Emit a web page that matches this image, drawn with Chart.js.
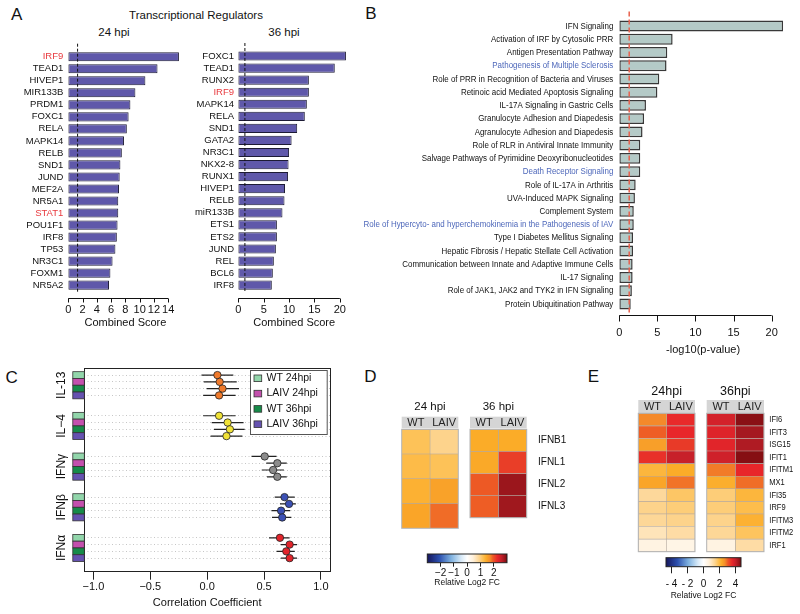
<!DOCTYPE html>
<html>
<head>
<meta charset="utf-8">
<title>Host response figure</title>
<script src="https://cdn.jsdelivr.net/npm/chart.js@4.4.1/dist/chart.umd.min.js"></script>
<style>
  body { margin: 0; background: #fff; }
  #fig { position: relative; width: 800px; height: 614px; overflow: hidden; font-family: 'Liberation Sans', Arial, sans-serif; color: #111; }
  #fig canvas { position: absolute; }
  .lbl { position: absolute; transform: translate(-50%, -50%); white-space: nowrap; line-height: 1; }
</style>
</head>
<body>
<div id="fig">
  <div class="lbl" style="left:16.7px;top:14px;font-size:17px">A</div>
  <div class="lbl" id="tfTitle" style="left:196px;top:16px;font-size:11.5px"></div>
  <div class="lbl" id="tfTime0" style="left:114px;top:33px;font-size:11.5px"></div>
  <div class="lbl" id="tfTime1" style="left:284px;top:33px;font-size:11.5px"></div>
  <div class="lbl" style="left:370.8px;top:13.3px;font-size:17px">B</div>
  <div class="lbl" style="left:11.7px;top:376.7px;font-size:17px">C</div>
  <div class="lbl" style="left:370.3px;top:375.8px;font-size:17px">D</div>
  <div class="lbl" style="left:593.3px;top:375.8px;font-size:17px">E</div>

  <canvas id="tf24" width="190" height="290" style="left:0px;top:40px"></canvas>
  <canvas id="tf36" width="175" height="290" style="left:180px;top:40px"></canvas>
  <canvas id="paths" width="440" height="360" style="left:360px;top:0px"></canvas>
  <canvas id="forest" width="345" height="274" style="left:0px;top:340px"></canvas>
  <canvas id="d24" width="70" height="140" style="left:395px;top:395px"></canvas>
  <canvas id="d36" width="110" height="140" style="left:463px;top:395px"></canvas>
  <canvas id="dBar" width="140" height="45" style="left:400px;top:545px"></canvas>
  <canvas id="e24" width="70" height="180" style="left:632px;top:378px"></canvas>
  <canvas id="e36" width="100" height="180" style="left:700px;top:378px"></canvas>
  <canvas id="eBar" width="130" height="60" style="left:640px;top:548px"></canvas>
</div>
<script>
// ---- panel A: transcriptional regulators ----
const tfTitle = "Transcriptional Regulators";
const tfTimes = ["24 hpi", "36 hpi"];
const scoreTitle = "Combined Score";
const tf24 = ["IRF9", "TEAD1", "HIVEP1", "MIR133B", "PRDM1", "FOXC1", "RELA", "MAPK14", "RELB", "SND1",
              "JUND", "MEF2A", "NR5A1", "STAT1", "POU1F1", "IRF8", "TP53", "NR3C1", "FOXM1", "NR5A2"];
const score24 = [15.5, 12.5, 10.8, 9.4, 8.7, 8.45, 8.2, 7.8, 7.5, 7.3, 7.2, 7.1, 7.0, 7.0, 6.9, 6.8, 6.6, 6.2, 5.9, 5.7];
const tf36 = ["FOXC1", "TEAD1", "RUNX2", "IRF9", "MAPK14", "RELA", "SND1", "GATA2", "NR3C1", "NKX2-8",
              "RUNX1", "HIVEP1", "RELB", "miR133B", "ETS1", "ETS2", "JUND", "REL", "BCL6", "IRF8"];
const score36 = [21.2, 19.0, 13.9, 13.9, 13.5, 13.1, 11.6, 10.5, 10.0, 9.9, 9.8, 9.2, 9.1, 8.7, 7.6, 7.6, 7.4, 7.0, 6.8, 6.6];
const redTFs = ["IRF9", "STAT1"];
const ticks24 = [0, 2, 4, 6, 8, 10, 12, 14];
const ticks36 = [0, 5, 10, 15, 20];
const scoreCut = 1.3;

// ---- panel B: canonical pathways ----
const pathways = ["IFN Signaling", "Activation of IRF by Cytosolic PRR", "Antigen Presentation Pathway",
  "Pathogenesis of Multiple Sclerosis", "Role of PRR in Recognition of Bacteria and Viruses",
  "Retinoic acid Mediated Apoptosis Signaling", "IL-17A Signaling in Gastric Cells",
  "Granulocyte Adhesion and Diapedesis", "Agranulocyte Adhesion and Diapedesis",
  "Role of RLR in Antiviral Innate Immunity", "Salvage Pathways of Pyrimidine Deoxyribonucleotides",
  "Death Receptor Signaling", "Role of IL-17A in Arthritis", "UVA-Induced MAPK Signaling", "Complement System",
  "Role of Hypercyto- and hyperchemokinemia in the Pathogenesis of IAV", "Type I Diabetes Mellitus Signaling",
  "Hepatic Fibrosis / Hepatic Stellate Cell Activation", "Communication between Innate and Adaptive Immune Cells",
  "IL-17 Signaling", "Role of JAK1, JAK2 and TYK2 in IFN Signaling", "Protein Ubiquitination Pathway"];
const pathwayLogP = [21.5, 7.0, 6.3, 6.2, 5.25, 5.0, 3.5, 3.25, 3.05, 2.75, 2.75, 2.75, 2.15, 2.05, 1.9, 1.9,
                     1.8, 1.8, 1.75, 1.75, 1.65, 1.5];
const bluePathways = ["Pathogenesis of Multiple Sclerosis", "Death Receptor Signaling",
  "Role of Hypercyto- and hyperchemokinemia in the Pathogenesis of IAV"];
const logPTicks = [0, 5, 10, 15, 20];
const logPTitle = "-log10(p-value)";
const pCut = 1.3;

// ---- panel C: correlation with cytokine signatures ----
const cytokines = ["IL-13", "IL\u22124", "IFN\u03b3", "IFN\u03b2", "IFN\u03b1"];
const cytokineColors = ["#f07a2b", "#f0e236", "#8c8c8c", "#3b50b4", "#e2252c"];
const conditions = ["WT 24hpi", "LAIV 24hpi", "WT 36hpi", "LAIV 36hpi"];
const conditionColors = ["#92d6ab", "#c450ae", "#168b49", "#6552b0"];
const il13Mid = [0.09, 0.11, 0.135, 0.105];
const il13Lo = [-0.05, -0.03, -0.005, -0.035];
const il13Hi = [0.23, 0.26, 0.28, 0.25];
const il4Mid = [0.105, 0.18, 0.2, 0.17];
const il4Lo = [-0.035, 0.04, 0.06, 0.03];
const il4Hi = [0.25, 0.32, 0.33, 0.31];
const ifngMid = [0.506, 0.617, 0.58, 0.617];
const ifngLo = [0.39, 0.52, 0.48, 0.526];
const ifngHi = [0.61, 0.70, 0.675, 0.70];
const ifnbMid = [0.68, 0.72, 0.65, 0.66];
const ifnbLo = [0.594, 0.64, 0.565, 0.57];
const ifnbHi = [0.77, 0.78, 0.73, 0.74];
const ifnaMid = [0.64, 0.725, 0.696, 0.725];
const ifnaLo = [0.544, 0.647, 0.61, 0.647];
const ifnaHi = [0.725, 0.79, 0.77, 0.79];
const corrTicks = [-1, -0.5, 0, 0.5, 1];
const corrTitle = "Correlation Coefficient";

// ---- panels D and E: heatmaps ----
const colNames = ["WT", "LAIV"];
const dTimes = ["24 hpi", "36 hpi"];
const dGenes = ["IFNB1", "IFNL1", "IFNL2", "IFNL3"];
const d24WT = [1.17, 1.26, 1.38, 1.5];
const d24LAIV = [0.93, 1.17, 1.53, 1.86];
const d36WT = [1.44, 1.47, 1.95, 1.92];
const d36LAIV = [1.44, 2.13, 2.82, 2.79];
const dBarTicks = [-2, -1, 0, 1, 2];
const dBarLabels = ["\u22122", "\u22121", "0", "1", "2"];
const eTimes = ["24hpi", "36hpi"];
const eGenes = ["IFI6", "IFIT3", "ISG15", "IFIT1", "IFITM1", "MX1", "IFI35", "IRF9", "IFITM3", "IFITM2", "IRF1"];
const e24WT = [2.73, 3.0, 2.44, 3.48, 2.07, 2.35, 1.32, 1.46, 1.36, 1.03, 0.56];
const e24LAIV = [3.53, 3.57, 3.38, 4.0, 2.26, 2.87, 1.74, 1.6, 1.46, 1.22, 0.47];
const e36WT = [3.85, 3.71, 3.67, 3.9, 2.82, 2.21, 1.6, 1.6, 1.46, 1.36, 0.56];
const e36LAIV = [4.56, 4.32, 4.23, 4.6, 3.57, 2.91, 2.07, 1.93, 2.16, 1.79, 1.22];
const eBarTicks = [-4, -2, 0, 2, 4];
const eBarLabels = ["- 4", "- 2", "0", "2", "4"];
const fcTitle = "Relative Log2 FC";

const SANS = "'Liberation Sans', Arial, Helvetica, sans-serif";

// diverging blue-white-orange-red map, t in [-1, 1]
const cmapStops = [[-1.0, "#16165c"], [-0.7, "#2b4fae"], [-0.4, "#7fb2e0"], [-0.15, "#d8eaf8"], [0, "#ffffff"],
  [0.15, "#fff0da"], [0.3, "#fdd592"], [0.4, "#fdc052"], [0.48, "#fbac28"], [0.58, "#f48a2a"],
  [0.64, "#ee5d25"], [0.72, "#e83a28"], [0.76, "#e8262a"], [0.85, "#c8202a"], [0.93, "#a0181e"], [1.0, "#7a0a0e"]];
function hexRgb(h) {
  return [parseInt(h.slice(1, 3), 16), parseInt(h.slice(3, 5), 16), parseInt(h.slice(5, 7), 16)];
}
function heatColor(t) {
  t = Math.max(-1, Math.min(1, t));
  for (let i = 1; i < cmapStops.length; i++) {
    if (t <= cmapStops[i][0]) {
      let [t0, c0] = cmapStops[i - 1], [t1, c1] = cmapStops[i];
      let f = (t - t0) / (t1 - t0), a = hexRgb(c0), b = hexRgb(c1);
      return "rgb(" + a.map((v, k) => Math.round(v + (b[k] - v) * f)).join(",") + ")";
    }
  }
  return cmapStops[cmapStops.length - 1][1];
}

Chart.defaults.font.family = SANS;
Chart.defaults.color = "#111";
Chart.defaults.animation = false;
Chart.defaults.responsive = false;
Chart.defaults.maintainAspectRatio = false;
Chart.defaults.events = [];
Chart.defaults.plugins.legend.display = false;
Chart.defaults.plugins.tooltip.enabled = false;

function fixSize(size) {
  return function (scale) {
    if (scale.isHorizontal()) scale.height = size; else scale.width = size;
  };
}
function ticksAt(values) {
  return function (scale) { scale.ticks = values.map(v => ({ value: v })); };
}

// R style axis: line from first to last tick, a little below the bars
const rAxis = {
  id: "rAxis",
  afterDraw(chart, args, o) {
    let x = chart.scales.x, ctx = chart.ctx;
    let y0 = Math.round(chart.chartArea.bottom + o.gap) + 0.5;
    let first = x.getPixelForValue(x.ticks[0].value);
    let last = x.getPixelForValue(x.ticks[x.ticks.length - 1].value);
    ctx.save();
    ctx.strokeStyle = "#111";
    ctx.lineWidth = 1;
    ctx.beginPath();
    ctx.moveTo(first, y0);
    ctx.lineTo(last, y0);
    x.ticks.forEach(t => {
      let px = Math.round(x.getPixelForValue(t.value)) + 0.5;
      ctx.moveTo(px, y0);
      ctx.lineTo(px, y0 + o.len);
    });
    ctx.stroke();
    ctx.restore();
  }
};

const cutLine = {
  id: "cutLine",
  afterDatasetsDraw(chart, args, o) {
    let px = chart.scales.x.getPixelForValue(o.value), a = chart.chartArea, ctx = chart.ctx;
    ctx.save();
    ctx.strokeStyle = o.color;
    ctx.lineWidth = o.width;
    ctx.setLineDash(o.dash);
    ctx.beginPath();
    ctx.moveTo(px, a.top - o.above);
    ctx.lineTo(px, a.bottom + o.below);
    ctx.stroke();
    ctx.restore();
  }
};

// category labels in a condensed face (the narrow font is not installed, so squeeze it)
const squeezeLabels = {
  id: "squeezeLabels",
  afterDraw(chart, args, o) {
    let y = chart.scales.y, ctx = chart.ctx, a = chart.chartArea;
    let left = o.side === "left";
    ctx.save();
    ctx.font = o.size + "px " + SANS;
    ctx.textBaseline = "middle";
    ctx.textAlign = left ? "right" : "left";
    chart.data.labels.forEach((lab, i) => {
      ctx.save();
      ctx.translate(left ? a.left - o.pad : a.right + o.pad, y.getPixelForValue(i));
      ctx.scale(o.squeeze, 1);
      ctx.fillStyle = o.blue && o.blue.includes(lab) ? "#4d67ba" : "#111";
      ctx.fillText(lab, 0, 0);
      ctx.restore();
    });
    ctx.restore();
  }
};

function tfChart(id, names, scores, xMax, xTicks, box) {
  return new Chart(document.getElementById(id), {
    type: "bar",
    data: {
      labels: names,
      datasets: [{
        data: scores, backgroundColor: "#5f58aa", borderColor: "#1d1b35", borderWidth: 1,
        borderSkipped: false, barPercentage: 0.76, categoryPercentage: 1
      }]
    },
    options: {
      indexAxis: "y",
      layout: { padding: { left: 0, top: 7.2, right: box.right, bottom: 0 } },
      scales: {
        x: {
          min: 0, max: xMax, afterBuildTicks: ticksAt(xTicks), afterFit: fixSize(38.8),
          grid: { display: false, drawTicks: true, tickLength: 10.8 }, border: { display: false },
          ticks: { autoSkip: false, maxRotation: 0, padding: 1.4, font: { size: 11 } },
          title: { display: true, text: scoreTitle, font: { size: 11 }, padding: { top: 0, bottom: 0.4 } }
        },
        y: {
          afterFit: fixSize(box.axisW), grid: { display: false, drawTicks: false }, border: { display: false },
          ticks: {
            autoSkip: false, padding: box.labelPad, font: { size: 9.5 },
            color: c => redTFs.includes(c.tick.label) ? "#e8393e" : "#111"
          }
        }
      },
      plugins: {
        rAxis: { gap: 6.8, len: 4 },
        cutLine: { value: scoreCut, color: "#111", width: 1, dash: [3, 2], above: 7, below: 1 }
      }
    },
    plugins: [rAxis, cutLine]
  });
}

document.getElementById("tfTitle").textContent = tfTitle;
document.getElementById("tfTime0").textContent = tfTimes[0];
document.getElementById("tfTime1").textContent = tfTimes[1];
tfChart("tf24", tf24, score24, 16, ticks24, { axisW: 68.3, right: 7.5, labelPad: 5 });
tfChart("tf36", tf36, score36, 22, ticks36, { axisW: 58.3, right: 5, labelPad: 4.3 });

new Chart(document.getElementById("paths"), {
  type: "bar",
  data: {
    labels: pathways,
    datasets: [{
      data: pathwayLogP, backgroundColor: "#b4cac7", borderColor: "#383838", borderWidth: 1.5,
      borderSkipped: false, barPercentage: 0.82, categoryPercentage: 1
    }]
  },
  options: {
    indexAxis: "y",
    layout: { padding: { left: 259.3, top: 19.4, right: 13.1, bottom: 0 } },
    scales: {
      x: {
        min: 0, max: 22, afterBuildTicks: ticksAt(logPTicks), afterFit: fixSize(49.4),
        grid: { display: false, drawTicks: true, tickLength: 10.4 }, border: { display: false },
        ticks: { autoSkip: false, maxRotation: 0, padding: 5.4, font: { size: 11 } },
        title: { display: true, text: logPTitle, font: { size: 11 }, padding: { top: 0, bottom: 3.4 } }
      },
      y: { display: false }
    },
    plugins: {
      rAxis: { gap: 4.4, len: 6 },
      cutLine: { value: pCut, color: "#e8624e", width: 1.5, dash: [5, 3], above: 8, below: 4.4 },
      squeezeLabels: { side: "left", pad: 6, size: 9.7, squeeze: 0.82, blue: bluePathways }
    }
  },
  plugins: [rAxis, cutLine, squeezeLabels]
});

// ---- forest plot ----
const corrMid = [il13Mid, il4Mid, ifngMid, ifnbMid, ifnaMid];
const corrLo = [il13Lo, il4Lo, ifngLo, ifnbLo, ifnaLo];
const corrHi = [il13Hi, il4Hi, ifngHi, ifnbHi, ifnaHi];
const rowPos = (g, r) => g * 6 + r;
let rowTicks = [];
cytokines.forEach((c, g) => conditions.forEach((d, r) => rowTicks.push(rowPos(g, r))));

let forestSets = cytokines.map((name, g) => ({
  label: name,
  data: corrMid[g].map((v, r) => ({ x: v, y: rowPos(g, r) })),
  backgroundColor: cytokineColors[g], borderColor: "#222", borderWidth: 0.8, pointRadius: 3.7, order: 0
}));
cytokines.forEach((name, g) => {
  conditions.forEach((cond, r) => {
    forestSets.push({
      label: name + " " + cond,
      data: [{ x: corrLo[g][r], y: rowPos(g, r) }, { x: corrHi[g][r], y: rowPos(g, r) }],
      showLine: true, borderColor: "#222", borderWidth: 1.2, pointRadius: 0, order: 1
    });
  });
});

const forestDecor = {
  id: "forestDecor",
  afterDraw(chart) {
    let ctx = chart.ctx, a = chart.chartArea, y = chart.scales.y;
    ctx.save();
    ctx.strokeStyle = "#222";
    ctx.lineWidth = 1;
    ctx.strokeRect(Math.round(a.left) + 0.5, Math.round(a.top) + 0.5, Math.round(a.right - a.left), Math.round(a.bottom - a.top));
    cytokines.forEach((name, g) => {
      conditions.forEach((cond, r) => {
        let py = y.getPixelForValue(rowPos(g, r));
        ctx.fillStyle = conditionColors[r];
        ctx.fillRect(a.left - 11.5, py - 3.4, 11.5, 6.8);
        ctx.strokeStyle = "#333";
        ctx.lineWidth = 0.8;
        ctx.strokeRect(a.left - 11.5, py - 3.4, 11.5, 6.8);
      });
      let cy = y.getPixelForValue(rowPos(g, 1.5));
      ctx.save();
      ctx.translate(a.left - 22.6, cy);
      ctx.rotate(-Math.PI / 2);
      ctx.fillStyle = "#111";
      ctx.font = "12px " + SANS;
      ctx.textAlign = "center";
      ctx.textBaseline = "middle";
      ctx.fillText(name, 0, 0);
      ctx.restore();
    });
    // legend box, top right inside the frame
    let bx = a.right - 80, by = a.top + 1.7;
    ctx.fillStyle = "#fff";
    ctx.fillRect(bx, by, 76.7, 64);
    ctx.strokeStyle = "#555";
    ctx.lineWidth = 1;
    ctx.strokeRect(Math.round(bx) + 0.5, Math.round(by) + 0.5, 76.7, 64);
    ctx.font = "10.5px " + SANS;
    ctx.textBaseline = "middle";
    ctx.textAlign = "left";
    conditions.forEach((cond, r) => {
      let ly = by + 8.3 + r * 15.3;
      ctx.fillStyle = conditionColors[r];
      ctx.fillRect(bx + 4, ly - 3.3, 7.7, 6.6);
      ctx.strokeStyle = "#333";
      ctx.lineWidth = 0.8;
      ctx.strokeRect(bx + 4, ly - 3.3, 7.7, 6.6);
      ctx.fillStyle = "#111";
      ctx.fillText(cond, bx + 16.5, ly);
    });
    ctx.restore();
  }
};

new Chart(document.getElementById("forest"), {
  type: "scatter",
  data: { datasets: forestSets },
  options: {
    layout: { padding: { left: 0, top: 28.3, right: 15, bottom: 0 } },
    scales: {
      x: {
        type: "linear", min: -1.08, max: 1.08, afterBuildTicks: ticksAt(corrTicks), afterFit: fixSize(42.3),
        grid: { drawOnChartArea: false, drawTicks: true, tickLength: 8, color: "#222" }, border: { display: false },
        ticks: {
          autoSkip: false, maxRotation: 0, padding: 0.7, font: { size: 11 },
          callback: v => (v < 0 ? "\u2212" : "") + Math.abs(v).toFixed(1)
        },
        title: { display: true, text: corrTitle, font: { size: 11 }, padding: { top: 0, bottom: 4.1 } }
      },
      y: {
        type: "linear", reverse: true, min: -1, max: 29, afterBuildTicks: ticksAt(rowTicks), afterFit: fixSize(84.3),
        ticks: { display: false },
        grid: { color: "#b8b8b8", lineWidth: 0.8, drawTicks: false },
        border: { display: false, dash: [1, 2.5] }
      }
    }
  },
  plugins: [forestDecor]
});

// ---- heatmaps ----
const heatFrame = {
  id: "heatFrame",
  beforeDraw(chart, args, o) {
    let ctx = chart.ctx, a = chart.chartArea;
    ctx.save();
    ctx.fillStyle = "#d5d5d5";
    ctx.fillRect(a.left, a.top - o.headH, a.right - a.left, o.headH - o.headGap);
    ctx.restore();
  },
  afterDatasetsDraw(chart) {
    let ctx = chart.ctx, a = chart.chartArea;
    ctx.save();
    ctx.strokeStyle = "#b3b3b3";
    ctx.lineWidth = 1;
    ctx.strokeRect(a.left, a.top, a.right - a.left, a.bottom - a.top);
    ctx.restore();
  }
};

function heatmap(id, o) {
  let ones = o.genes.map(() => 1);
  let plugins = [heatFrame];
  if (o.squeeze) plugins.push(squeezeLabels);
  return new Chart(document.getElementById(id), {
    type: "bar",
    data: {
      labels: o.genes,
      datasets: [o.wt, o.laiv].map((vals, k) => ({
        label: colNames[k], data: ones,
        backgroundColor: vals.map(v => heatColor(v / o.range)),
        borderColor: "rgba(175,165,155,0.9)", borderWidth: 0.6, borderSkipped: false,
        barPercentage: 1, categoryPercentage: 1
      }))
    },
    options: {
      indexAxis: "y",
      layout: { padding: { left: o.padL, right: o.padR, top: 0, bottom: o.padB } },
      scales: {
        x: {
          type: "linear", stacked: true, min: 0, max: 2, position: "top",
          afterBuildTicks: ticksAt([0.5, 1.5]), afterFit: fixSize(o.headH),
          grid: { display: false, drawTicks: false }, border: { display: false },
          ticks: { autoSkip: false, maxRotation: 0, padding: o.headPad, color: "#222", font: { size: 11 }, callback: (v, i) => colNames[i] }
        },
        y: {
          stacked: true, position: "right", display: !!o.showGenes,
          afterFit: fixSize(o.axisW || 0), grid: { display: false, drawTicks: false }, border: { display: false },
          ticks: { autoSkip: false, padding: o.genePad || 0, font: o.geneFont }
        }
      },
      plugins: {
        title: {
          display: true, text: o.title, fullSize: false, color: "#111",
          font: { size: o.titleSize, weight: "normal" }, padding: { top: o.titleTop, bottom: o.titleBottom }
        },
        heatFrame: { headH: o.headH, headGap: o.headGap },
        squeezeLabels: o.squeeze || {}
      }
    },
    plugins: plugins
  });
}

const dCommon = { genes: dGenes, range: 3, headH: 12.6, headGap: 1, headPad: 0.2, titleSize: 11.5, titleTop: 4.8, titleBottom: 3.1, padB: 6.7 };
heatmap("d24", Object.assign({}, dCommon, { title: dTimes[0], wt: d24WT, laiv: d24LAIV, padL: 6.7, padR: 6.7 }));
heatmap("d36", Object.assign({}, dCommon, {
  title: dTimes[1], wt: d36WT, laiv: d36LAIV, padL: 7, padR: 0, showGenes: true,
  axisW: 46.3, genePad: 11.3, geneFont: { size: 10 }
}));
const eCommon = { genes: eGenes, range: 4.7, headH: 13.3, headGap: 0, headPad: 0, titleSize: 12.5, titleTop: 6.2, titleBottom: 0.8, padB: 6.3 };
heatmap("e24", Object.assign({}, eCommon, { title: eTimes[0], wt: e24WT, laiv: e24LAIV, padL: 6.3, padR: 7 }));
heatmap("e36", Object.assign({}, eCommon, {
  title: eTimes[1], wt: e36WT, laiv: e36LAIV, padL: 6.7, padR: 36,
  squeeze: { side: "right", pad: 5.3, size: 9.2, squeeze: 0.82 }
}));

// ---- colour keys ----
const gradientBar = {
  id: "gradientBar",
  beforeDatasetsDraw(chart, args, o) {
    let ctx = chart.ctx, a = chart.chartArea, x = chart.scales.x;
    let g = ctx.createLinearGradient(a.left, 0, a.right, 0);
    for (let k = 0; k <= 60; k++) {
      let v = x.min + (x.max - x.min) * k / 60;
      g.addColorStop(k / 60, heatColor(v / o.range));
    }
    ctx.save();
    ctx.fillStyle = g;
    ctx.fillRect(a.left, a.top, a.right - a.left, a.bottom - a.top);
    ctx.strokeStyle = "#222";
    ctx.lineWidth = 1;
    ctx.strokeRect(a.left, a.top, a.right - a.left, a.bottom - a.top);
    ctx.restore();
  }
};

function colorBar(id, o) {
  return new Chart(document.getElementById(id), {
    type: "scatter",
    data: { datasets: [] },
    options: {
      layout: { padding: { left: o.left, right: o.right, top: o.top, bottom: 0 } },
      scales: {
        x: {
          type: "linear", min: -o.range, max: o.range, afterBuildTicks: ticksAt(o.ticks), afterFit: fixSize(o.axisH),
          grid: { drawOnChartArea: false, drawTicks: true, tickLength: o.tickLen, color: "#222" }, border: { display: false },
          ticks: { autoSkip: false, maxRotation: 0, padding: o.labelPad, font: { size: 10 }, callback: (v, i) => o.labels[i] },
          title: { display: true, text: fcTitle, font: { size: 8.5 }, padding: { top: 0, bottom: o.titlePad } }
        },
        y: { display: false, min: 0, max: 1 }
      },
      plugins: { gradientBar: { range: o.range } }
    },
    plugins: [gradientBar]
  });
}

colorBar("dBar", { range: 3, ticks: dBarTicks, labels: dBarLabels, left: 27.3, right: 33, top: 9, axisH: 27.3, tickLen: 4, labelPad: 0.6, titlePad: 2.2 });
colorBar("eBar", { range: 4.7, ticks: eBarTicks, labels: eBarLabels, left: 26, right: 29, top: 9.7, axisH: 41.3, tickLen: 6.6, labelPad: 4.7, titlePad: 7.1 });
</script>
</body>
</html>
